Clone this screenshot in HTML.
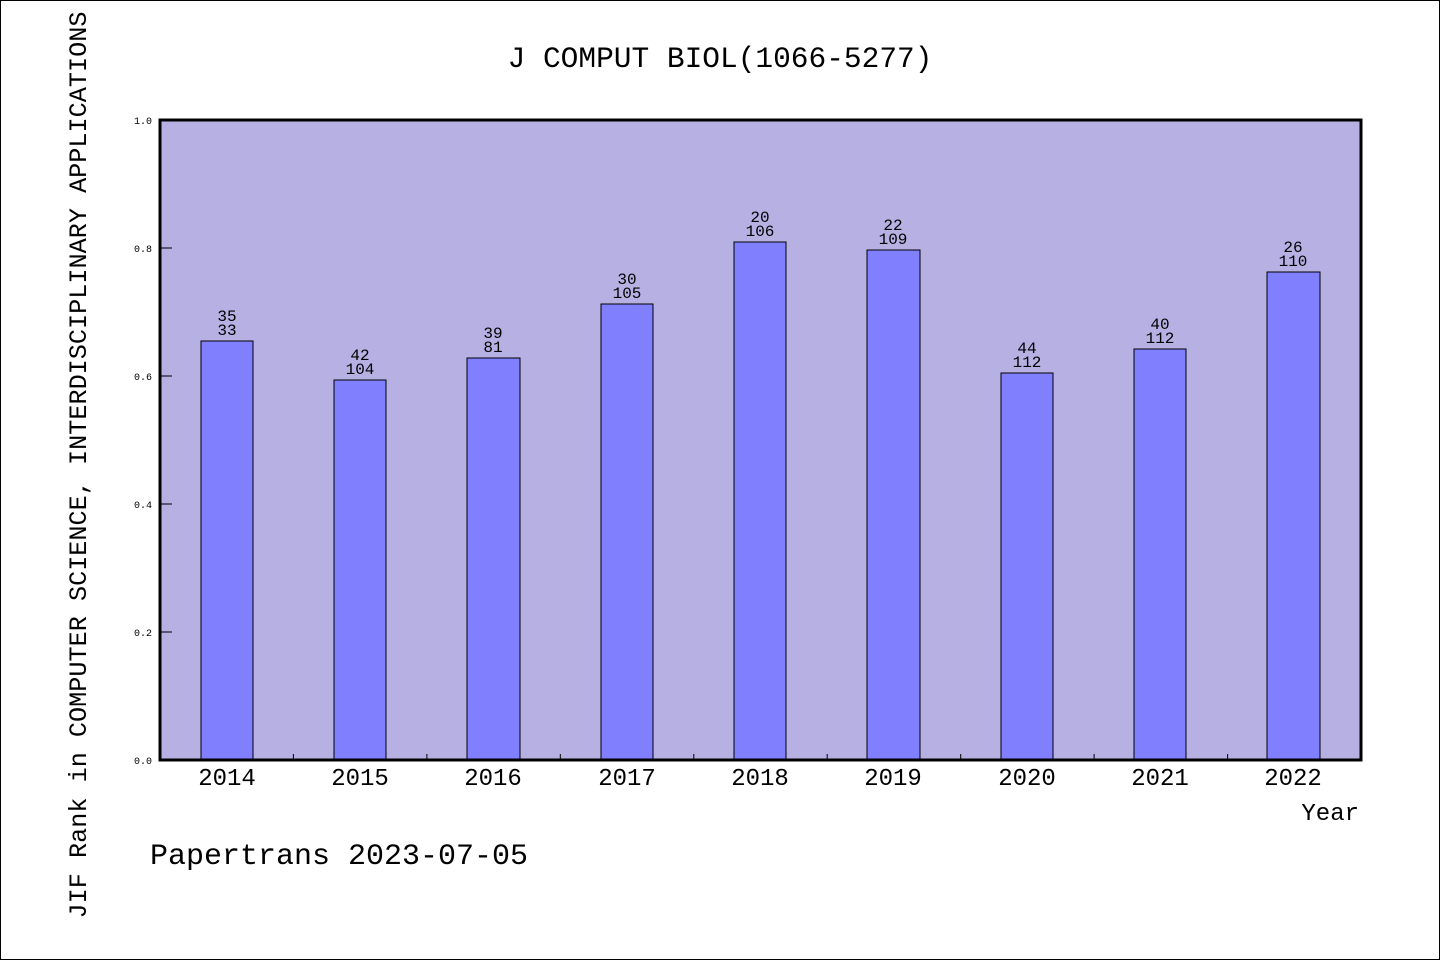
<!DOCTYPE html>
<html><head><meta charset="utf-8"><style>
html,body{margin:0;padding:0;background:#fff;}
svg{display:block;}
text{font-family:"Liberation Mono","DejaVu Sans Mono",monospace;fill:#000;}
</style></head><body>
<svg width="1440" height="960" viewBox="0 0 1440 960" xmlns="http://www.w3.org/2000/svg">
<rect x="0.5" y="0.5" width="1439" height="959" fill="#fff" stroke="#000" stroke-width="1"/>
<text x="720" y="67" font-size="29.5" text-anchor="middle">J COMPUT BIOL(1066-5277)</text>
<rect x="160" y="120" width="1201" height="640" fill="#b6b0e3"/>
<g stroke="#000" stroke-width="1">
<line x1="161" y1="632" x2="172" y2="632"/>
<line x1="161" y1="504" x2="172" y2="504"/>
<line x1="161" y1="376" x2="172" y2="376"/>
<line x1="161" y1="248" x2="172" y2="248"/>
<line x1="293.4" y1="760" x2="293.4" y2="754"/>
<line x1="426.9" y1="760" x2="426.9" y2="754"/>
<line x1="560.3" y1="760" x2="560.3" y2="754"/>
<line x1="693.8" y1="760" x2="693.8" y2="754"/>
<line x1="827.2" y1="760" x2="827.2" y2="754"/>
<line x1="960.7" y1="760" x2="960.7" y2="754"/>
<line x1="1094.1" y1="760" x2="1094.1" y2="754"/>
<line x1="1227.6" y1="760" x2="1227.6" y2="754"/>
</g>
<g fill="#8080ff" stroke="#000" stroke-width="1">
<rect x="201" y="341" width="52" height="419"/>
<rect x="334" y="380" width="52" height="380"/>
<rect x="467" y="358" width="53" height="402"/>
<rect x="601" y="304" width="52" height="456"/>
<rect x="734" y="242" width="52" height="518"/>
<rect x="867" y="250" width="53" height="510"/>
<rect x="1001" y="373" width="52" height="387"/>
<rect x="1134" y="349" width="52" height="411"/>
<rect x="1267" y="272" width="53" height="488"/>
</g>
<rect x="160" y="120" width="1201" height="640" fill="none" stroke="#000" stroke-width="3"/>
<g font-size="10" text-anchor="end">
<text x="152" y="764">0.0</text>
<text x="152" y="636">0.2</text>
<text x="152" y="508">0.4</text>
<text x="152" y="380">0.6</text>
<text x="152" y="252">0.8</text>
<text x="152" y="124">1.0</text>
</g>
<g font-size="16" text-anchor="middle">
<text x="227" y="321">35</text><text x="227" y="335">33</text>
<text x="360" y="360">42</text><text x="360" y="374">104</text>
<text x="493" y="338">39</text><text x="493" y="352">81</text>
<text x="627" y="284">30</text><text x="627" y="298">105</text>
<text x="760" y="222">20</text><text x="760" y="236">106</text>
<text x="893" y="230">22</text><text x="893" y="244">109</text>
<text x="1027" y="353">44</text><text x="1027" y="367">112</text>
<text x="1160" y="329">40</text><text x="1160" y="343">112</text>
<text x="1293" y="252">26</text><text x="1293" y="266">110</text>
</g>
<g font-size="24" text-anchor="middle">
<text x="227" y="785">2014</text>
<text x="360" y="785">2015</text>
<text x="493" y="785">2016</text>
<text x="627" y="785">2017</text>
<text x="760" y="785">2018</text>
<text x="893" y="785">2019</text>
<text x="1027" y="785">2020</text>
<text x="1160" y="785">2021</text>
<text x="1293" y="785">2022</text>
</g>
<text x="1359" y="820" font-size="24" text-anchor="end">Year</text>
<text x="150" y="864" font-size="30">Papertrans 2023-07-05</text>
<text transform="translate(86,465) rotate(-90)" font-size="25.2" text-anchor="middle">JIF Rank in COMPUTER SCIENCE, INTERDISCIPLINARY APPLICATIONS</text>
</svg>
</body></html>
